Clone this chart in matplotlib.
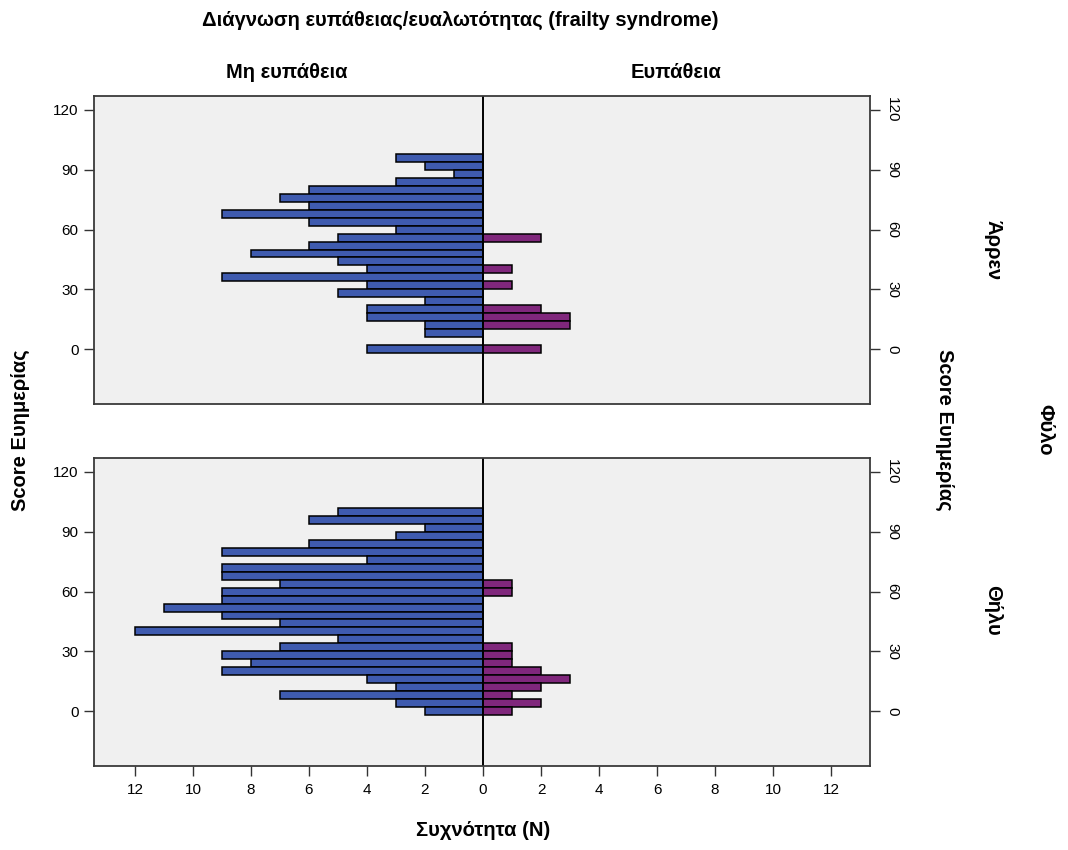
import numpy as np
import matplotlib
matplotlib.use("Agg")
import matplotlib.pyplot as plt

# bin centres of the score (bin width 4)
scores_male = [96, 92, 88, 84, 80, 76, 72, 68, 64, 60, 56, 52, 48, 44, 40, 36, 32, 28, 24, 20, 16, 12, 8, 4, 0]
male_not_frail = [3, 2, 1, 3, 6, 7, 6, 9, 6, 3, 5, 6, 8, 5, 4, 9, 4, 5, 2, 4, 4, 2, 2, 0, 4]
male_frail = [0, 0, 0, 0, 0, 0, 0, 0, 0, 0, 2, 0, 0, 0, 1, 0, 1, 0, 0, 2, 3, 3, 0, 0, 2]

scores_female = [100, 96, 92, 88, 84, 80, 76, 72, 68, 64, 60, 56, 52, 48, 44, 40, 36, 32, 28, 24, 20, 16, 12, 8, 4, 0]
female_not_frail = [5, 6, 2, 3, 6, 9, 4, 9, 9, 7, 9, 9, 11, 9, 7, 12, 5, 7, 9, 8, 9, 4, 3, 7, 3, 2]
female_frail = [0, 0, 0, 0, 0, 0, 0, 0, 0, 1, 1, 0, 0, 0, 0, 0, 0, 1, 1, 1, 2, 3, 2, 1, 2, 1]

y_ticks = [0, 30, 60, 90, 120]
x_ticks = [-12, -10, -8, -6, -4, -2, 0, 2, 4, 6, 8, 10, 12]

title = "Διάγνωση ευπάθειας/ευαλωτότητας (frailty syndrome)"
col_labels = ["Μη ευπάθεια", "Ευπάθεια"]
row_labels = ["Άρρεν", "Θήλυ"]
y_label = "Score Ευημερίας"
x_label = "Συχνότητα (N)"
row_title = "Φύλο"

plt.rcParams['font.family'] = ['Liberation Sans Narrow', 'Liberation Sans', 'DejaVu Sans']

W, H = 1068, 850
fig = plt.figure(figsize=(W / 100, H / 100), dpi=100)
fig.patch.set_facecolor("white")

blue = "#3F5BAF"
purple = "#80277C"
bg = "#F0F0F0"


def fx(px):
    return px / W


def fy(py):
    return 1 - py / H


def panel(bottom_px, top_px, scores, left_vals, right_vals, show_x):
    ax = fig.add_axes([fx(94), fy(bottom_px), fx(870 - 94), (bottom_px - top_px) / H])
    ax.set_facecolor(bg)
    ax.barh(scores, -np.array(left_vals), height=4, color=blue, edgecolor="black", linewidth=1.1)
    ax.barh(scores, right_vals, height=4, color=purple, edgecolor="black", linewidth=1.1)
    ax.axvline(0, color="black", lw=1.4)
    ax.set_xlim(-13.41, 13.34)
    ax.set_ylim(-27.5, 127)
    ax.set_yticks(y_ticks)
    ax.tick_params(axis="y", left=True, right=True, labelleft=True, labelright=True,
                   length=7, width=1, color="#333333", labelsize=11, pad=4)
    for t in ax.yaxis.get_major_ticks():
        t.label2.set_rotation(270)
        t.label2.set_verticalalignment("center")
    ax.set_xticks(x_ticks)
    if show_x:
        ax.set_xticklabels([str(abs(v)) for v in x_ticks])
        ax.tick_params(axis="x", length=7, width=1, color="#333333", labelsize=11, pad=5)
    else:
        ax.tick_params(axis="x", bottom=False, labelbottom=False)
    for s in ax.spines.values():
        s.set_color("#3A3A3A")
        s.set_linewidth(1.3)
    return ax


panel(404, 96, scores_male, male_not_frail, male_frail, False)
panel(766, 458, scores_female, female_not_frail, female_frail, True)

bold = dict(fontweight="bold", fontsize=14.5, ha="center", va="center")
fig.text(fx(460), fy(20), title, **bold)
fig.text(fx(287), fy(72), col_labels[0], **bold)
fig.text(fx(676), fy(72), col_labels[1], **bold)
fig.text(fx(483), fy(830), x_label, **bold)
fig.text(fx(20), fy(430), y_label, rotation=90, **bold)
fig.text(fx(945), fy(430), y_label, rotation=270, **bold)
fig.text(fx(993), fy(250), row_labels[0], rotation=270, **bold)
fig.text(fx(993), fy(610), row_labels[1], rotation=270, **bold)
fig.text(fx(1045), fy(430), row_title, rotation=270, **bold)

fig.savefig("out.png", dpi=100)
